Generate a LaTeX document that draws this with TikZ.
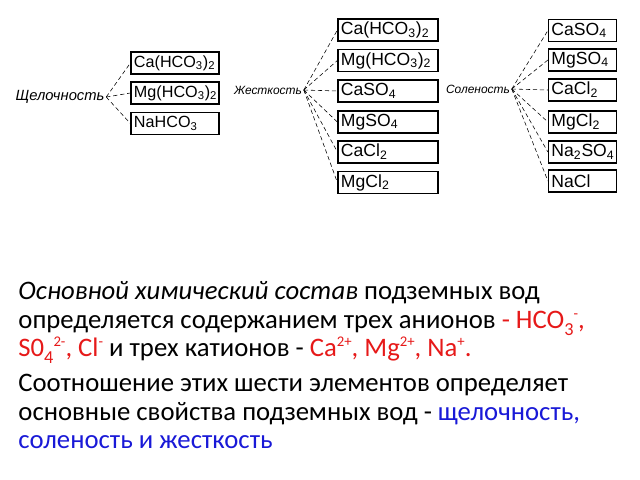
\documentclass[tikz,border=0pt]{standalone}
\usepackage{fontspec}
\setmainfont{Carlito}
\newfontfamily\saltfont{Liberation Sans}
\usetikzlibrary{positioning}
\definecolor{ionred}{RGB}{230,25,25}
\definecolor{propblue}{RGB}{25,25,215}
\newcommand{\ion}[1]{\textcolor{ionred}{#1}}
\newcommand{\chg}[1]{\raisebox{0.75ex}{\fontsize{10.5}{10}\selectfont #1}}
\newcommand{\idx}[1]{\raisebox{-0.55ex}{\fontsize{13}{10}\selectfont #1}}

\begin{document}
\begin{tikzpicture}[x=0.025cm,y=-0.025cm,semithick]
    \useasboundingbox (0,0) rectangle (640,480);
    \tikzstyle{salt}=[draw=black,line width=1.1pt,rectangle,minimum height=0.55cm,inner sep=2pt,align=left,font=\saltfont\fontsize{12.5}{13}\selectfont]
    \tikzset{prop/.style={font=\saltfont\itshape\fontsize{8.5}{10}\selectfont,inner sep=1pt}}
    \tikzset{small salt/.style={salt,text width=2.05cm,font=\saltfont\fontsize{11.5}{12}\selectfont}}
    \tikzset{link/.style={densely dashed,thin}}
    \tikzset{para/.style={anchor=north west,align=left,inner sep=0pt,font=\fontsize{19}{20.3}\selectfont}}
    % щелочность
    \node[prop,font=\saltfont\itshape\fontsize{10.5}{12}\selectfont] (shch) at (60, 97) {Щелочность};
    \node[small salt] (s1) at (175, 63) {Ca(HCO\textsubscript{3})\textsubscript{2}};
    \node[small salt] (s2) at (175, 93) {Mg(HCO\textsubscript{3})\textsubscript{2}};
    \node[small salt] (s3) at (175, 123.5) {NaHCO\textsubscript{3}};
    \foreach \b in {s1,s2,s3}
        \draw[link] (shch.east) -- (\b.west);
    % жесткость
    \node[prop] (zh) at (268, 90) {Жесткость};
    \node[salt,text width=2.35cm] (z1) at (388, 30) {Ca(HCO\textsubscript{3})\textsubscript{2}};
    \node[salt,text width=2.35cm] (z2) at (388, 60.5) {Mg(HCO\textsubscript{3})\textsubscript{2}};
    \node[salt,text width=2.35cm] (z3) at (388, 91) {CaSO\textsubscript{4}};
    \node[salt,text width=2.35cm] (z4) at (388, 122) {MgSO\textsubscript{4}};
    \node[salt,text width=2.35cm] (z5) at (388, 152) {CaCl\textsubscript{2}};
    \node[salt,text width=2.35cm] (z6) at (388, 182.5) {MgCl\textsubscript{2}};
    \foreach \b in {z1,z2,z3,z4,z5,z6}
        \draw[link] (zh.east) -- (\b.west);
    % соленость
    \node[prop] (sol) at (478, 89) {Соленость};
    \node[salt,text width=1.55cm] (c1) at (582.5, 30.5) {CaSO\textsubscript{4}};
    \node[salt,text width=1.55cm] (c2) at (582.5, 60) {MgSO\textsubscript{4}};
    \node[salt,text width=1.55cm] (c3) at (582.5, 90) {CaCl\textsubscript{2}};
    \node[salt,text width=1.55cm] (c4) at (582.5, 122) {MgCl\textsubscript{2}};
    \node[salt,text width=1.55cm] (c5) at (582.5, 152) {Na\textsubscript{2}SO\textsubscript{4}};
    \node[salt,text width=1.55cm] (c6) at (582.5, 181) {NaCl};
    \foreach \b in {c1,c2,c3,c4,c5,c6}
        \draw[link] (sol.east) -- (\b.west);
    % text
    \node[para] (osn) at (18, 281)
        {\textit{Основной химический состав} подземных вод\\
         определяется содержанием трех анионов \ion{- HCO\idx{3}\chg{-},}\\
         \ion{S0\idx{4}\chg{2-}, Cl\chg{-}} и трех катионов - \ion{Ca\chg{2+}, Mg\chg{2+}, Na\chg{+}.}};
    \node[para] (sootn) at (18, 374)
        {Соотношение этих шести элементов определяет\\
         основные свойства подземных вод - \textcolor{propblue}{щелочность,}\\
         \textcolor{propblue}{соленость и жесткость}};
\end{tikzpicture}
\end{document}
